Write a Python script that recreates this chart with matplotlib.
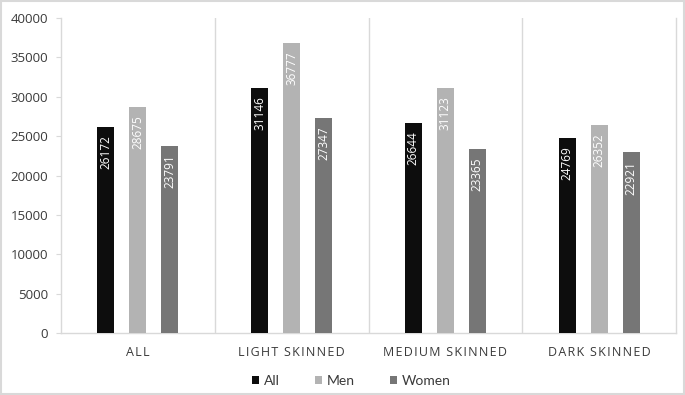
import matplotlib.pyplot as plt
import numpy as np
from matplotlib.patches import Rectangle

categories = ["ALL", "LIGHT SKINNED", "MEDIUM SKINNED", "DARK SKINNED"]
series_names = ["All", "Men", "Women"]
all_values = [26172, 31146, 26644, 24769]
men_values = [28675, 36777, 31123, 26352]
women_values = [23791, 27347, 23365, 22921]
yticks = list(range(0, 40001, 5000))

colors = ["#0d0d0d", "#b3b3b3", "#767676"]
grid_color = "#d9d9d9"
text_color = "#3a3a3a"

fig = plt.figure(figsize=(6.85, 3.95), dpi=100)
ax = fig.add_axes([61 / 685, 1 - 333 / 395, 615 / 685, 315 / 395])

x = np.arange(len(categories))
offsets = [-0.208, 0.0, 0.208]
width = 0.11

for vals, off, col, name in zip([all_values, men_values, women_values], offsets, colors, series_names):
    bars = ax.bar(x + off, vals, width, color=col, label=name, zorder=3)
    for b, v in zip(bars, vals):
        ax.annotate(str(v), (b.get_x() + b.get_width() / 2, v),
                    xytext=(0, -6), textcoords="offset points",
                    rotation=90, ha="center", va="top",
                    color="white", fontsize=8.5, family="Open Sans", zorder=4)

ax.set_xlim(-0.5, len(categories) - 0.5)
ax.set_ylim(0, 40000)
ax.set_yticks(yticks)
ax.set_xticks(x)
# letter-spaced category labels (hair spaces between characters)
spaced = ["\u200a".join(c) for c in categories]
ax.set_xticklabels(spaced, family=["Open Sans", "DejaVu Sans"], fontsize=9, color=text_color)

for sep in x[:-1] + 0.5:
    ax.axvline(sep, color=grid_color, lw=1, zorder=1)

for side in ["left", "right", "bottom"]:
    ax.spines[side].set_color(grid_color)
    ax.spines[side].set_linewidth(1)
ax.spines["top"].set_visible(False)

ax.tick_params(axis="y", length=3.6, color=grid_color, pad=5.5,
               labelsize=9.5, labelcolor=text_color)
ax.tick_params(axis="x", length=0, pad=9)
for lab in ax.get_yticklabels():
    lab.set_family("Open Sans")

leg = fig.legend(loc="center", bbox_to_anchor=(0.513, 1 - 381 / 395), ncol=3,
                 frameon=False, handlelength=0.5, handleheight=0.5,
                 handletextpad=0.36, columnspacing=2.5,
                 prop={"family": "Lato", "size": 10})
for t in leg.get_texts():
    t.set_color(text_color)

fig.patches.append(Rectangle((0.001, 0.002), 0.997, 0.995, transform=fig.transFigure,
                             fill=False, edgecolor=grid_color, lw=1.5))

fig.savefig("out.png", dpi=100)
